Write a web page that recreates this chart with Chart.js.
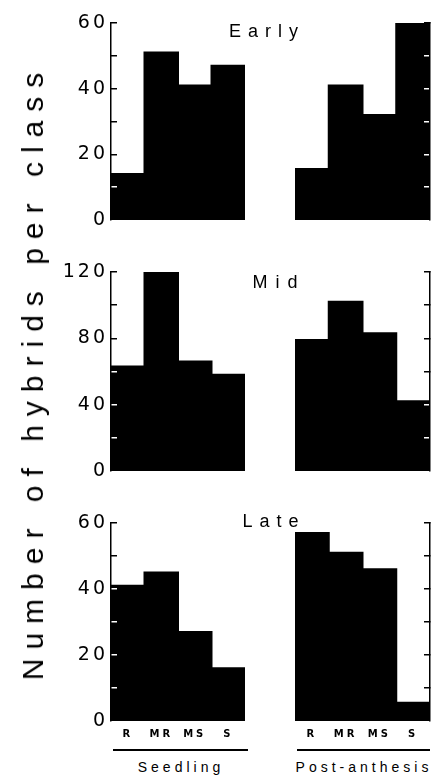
<!DOCTYPE html>
<html><head><meta charset="utf-8">
<script src="https://cdn.jsdelivr.net/npm/chart.js@4/dist/chart.umd.min.js"></script>
<style>
html,body{margin:0;padding:0;background:#fff;}
#wrap{position:relative;width:432px;height:775px;overflow:hidden;font-family:"Liberation Sans",Arial,sans-serif;color:#000;background:#fff;}
#wrap canvas{position:absolute;}
.txt{position:absolute;white-space:nowrap;line-height:1;transform:translate(-50%,-50%);}
.rule{position:absolute;height:2px;background:#000;}
</style></head><body><div id="wrap"></div>
<script>
// ---- data ----
const classes = ['R', 'MR', 'MS', 'S'];
const periods = ['Early', 'Mid', 'Late'];
const groups = ['Seedling', 'Post-anthesis'];
const yTitle = 'Number of hybrids per class';

const earlySeedling = [14, 51, 41, 47];
const earlyPost     = [15.5, 41, 32, 60];
const midSeedling   = [63, 120, 66, 58];
const midPost       = [79, 102, 83, 42];
const lateSeedling  = [41, 45, 27, 16];
const latePost      = [57, 51, 46, 5.5];

const earlyTicks = [0, 20, 40, 60];
const midTicks   = [0, 40, 80, 120];
const lateTicks  = [0, 20, 40, 60];

// ---- layout ----
Chart.defaults.font.family = '"DejaVu Sans", "Liberation Sans", Arial, sans-serif';
Chart.defaults.color = '#000';
const wrap = document.getElementById('wrap');
const rowTop = [23, 272, 523];
const rowBottom = [220, 471, 721];
const AXW = 70;

const spacingPlugin = {
  id: 'spacing',
  beforeDraw(chart, args, opts) { chart.ctx.letterSpacing = opts.value || '0px'; }
};

function makeChart(values, labelTicks, row, side, showX) {
  const cv = document.createElement('canvas');
  const padTop = 12;
  const padBottom = showX ? 0 : 12;
  const xH = showX ? 26 : 0;
  const plotH = rowBottom[row] - rowTop[row];
  let left, width;
  if (side === 'left') { left = 111 - AXW; width = AXW + 134; }
  else { left = 295; width = 135 + 3; }
  const height = padTop + plotH + padBottom + xH;
  cv.width = width; cv.height = height;
  cv.style.left = left + 'px';
  cv.style.top = (rowTop[row] - padTop) + 'px';
  cv.style.width = width + 'px'; cv.style.height = height + 'px';
  wrap.appendChild(cv);
  const yMax = labelTicks[labelTicks.length - 1];
  const step = (labelTicks[1] - labelTicks[0]) / 2;
  const adj = side === 'left' ? values[0] : values[values.length - 1];
  new Chart(cv, {
    type: 'bar',
    data: { labels: classes, datasets: [{ data: values, backgroundColor: '#000', borderWidth: 0, inflateAmount: 1, barPercentage: 1, categoryPercentage: 1 }] },
    plugins: [spacingPlugin],
    options: {
      responsive: false, animation: false,
      layout: { padding: { top: padTop, bottom: padBottom, left: 0, right: 0 } },
      plugins: { legend: { display: false }, tooltip: { enabled: false }, spacing: { value: '3px' } },
      scales: {
        x: {
          display: showX, offset: true,
          grid: { display: false, drawTicks: false }, border: { display: false },
          ticks: { padding: 7, font: { size: 10, weight: 'bold' }, maxRotation: 0, autoSkip: false },
          afterFit: (s) => { s.height = xH; s.paddingLeft = 0; s.paddingRight = 0; }
        },
        y: {
          position: side, min: 0, max: yMax,
          afterBuildTicks: (s) => { const t = []; for (let i = 0; i * step <= yMax; i++) t.push({ value: i * step }); s.ticks = t; },
          afterFit: (s) => { s.width = side === 'left' ? AXW : 3; s.paddingTop = 0; s.paddingBottom = 0; },
          grid: {
            z: 1, drawOnChartArea: false, drawTicks: true, tickLength: -6, lineWidth: 1.5,
            color: (c) => { const v = c.tick ? c.tick.value : 0; if (v === 0) return 'rgba(0,0,0,0)'; return v < adj ? '#fff' : '#000'; }
          },
          border: { display: true, color: '#000', width: 1.5, z: 1 },
          ticks: { display: side === 'left', padding: 9, font: { size: 19 }, callback: (v) => labelTicks.includes(v) ? String(v) : '' }
        }
      }
    }
  });
}

makeChart(earlySeedling, earlyTicks, 0, 'left', false);
makeChart(earlyPost, earlyTicks, 0, 'right', false);
makeChart(midSeedling, midTicks, 1, 'left', false);
makeChart(midPost, midTicks, 1, 'right', false);
makeChart(lateSeedling, lateTicks, 2, 'left', true);
makeChart(latePost, lateTicks, 2, 'right', true);

function addText(str, x, y, size, spacing, extra) {
  const d = document.createElement('div');
  d.className = 'txt';
  d.textContent = str;
  d.style.left = x + 'px'; d.style.top = y + 'px';
  d.style.fontSize = size + 'px';
  d.style.letterSpacing = spacing + 'px';
  if (extra) d.style.transform = 'translate(-50%,-50%) ' + extra;
  wrap.appendChild(d);
  return d;
}
addText(periods[0], 267, 31, 18, 7);
addText(periods[1], 279, 282, 18, 8);
addText(periods[2], 274, 521, 18, 7);
addText(yTitle, 33, 372, 30, 9, 'rotate(-90deg)');
addText(groups[0], 181, 767, 14, 4);
addText(groups[1], 364, 767, 14, 4);
function addRule(x1, x2, y) {
  const r = document.createElement('div');
  r.className = 'rule';
  r.style.left = x1 + 'px'; r.style.width = (x2 - x1) + 'px'; r.style.top = y + 'px';
  wrap.appendChild(r);
}
addRule(113, 248, 749);
addRule(297, 430, 749);
</script></body></html>
